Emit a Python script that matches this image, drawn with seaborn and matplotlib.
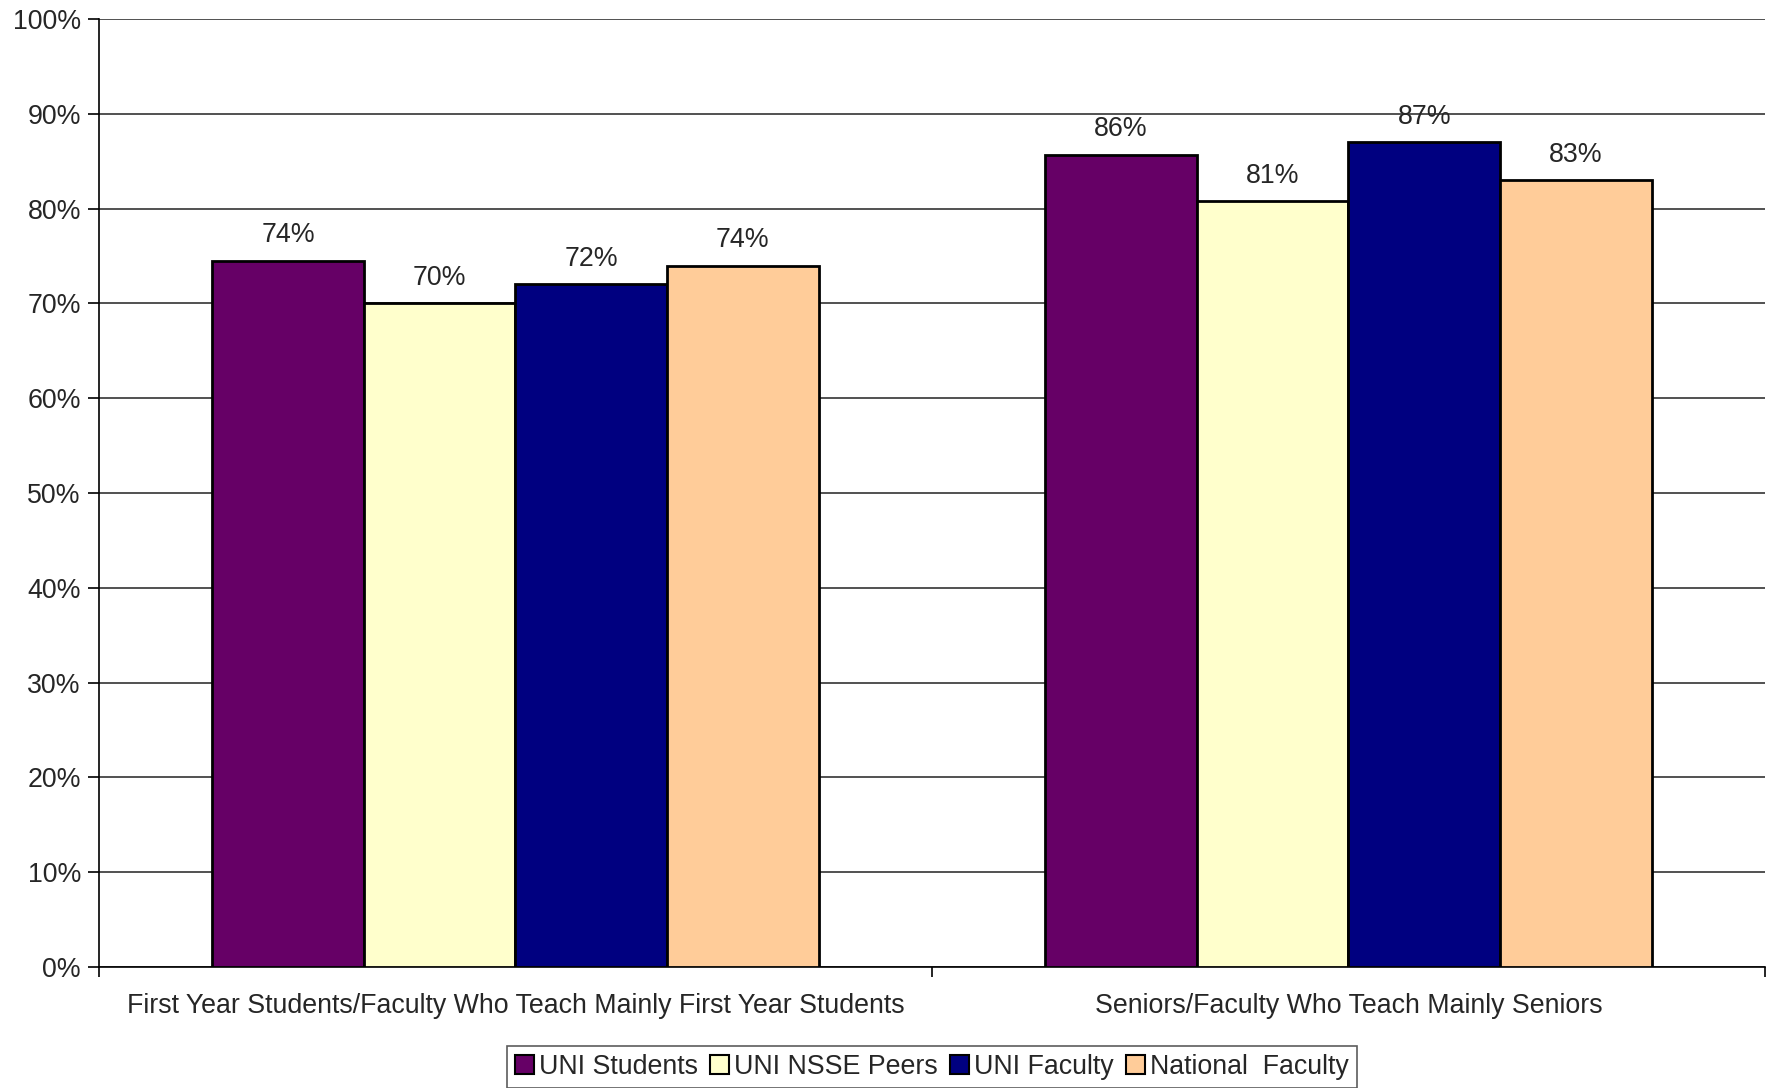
import pandas as pd
import matplotlib.pyplot as plt
import seaborn as sns
from matplotlib.patches import Patch

# Chart data
categories = ['First Year Students/Faculty Who Teach Mainly First Year Students',
              'Seniors/Faculty Who Teach Mainly Seniors']
series = ['UNI Students', 'UNI NSSE Peers', 'UNI Faculty', 'National  Faculty']
uni_students = [74.5, 85.7]
uni_nsse_peers = [70.0, 80.8]
uni_faculty = [72.0, 87.0]
national_faculty = [74.0, 83.0]
labels = [['74%', '86%'], ['70%', '81%'], ['72%', '87%'], ['74%', '83%']]
colors = ['#660066', '#FFFFCC', '#000080', '#FFCC99']

# Long-form table for seaborn
rows = []
for name, vals in zip(series, [uni_students, uni_nsse_peers, uni_faculty, national_faculty]):
    for cat, v in zip(categories, vals):
        rows.append({'Category': cat, 'Group': name, 'Value': v})
df = pd.DataFrame(rows)

sns.set_style('white')
plt.rcParams['font.family'] = ['Liberation Sans', 'DejaVu Sans']
fs = 19.3

fig = plt.figure(figsize=(17.73, 10.88), dpi=100)
ax = fig.add_axes([0.0558, 0.1112, 0.9397, 0.8713])

sns.barplot(data=df, x='Category', y='Value', hue='Group', hue_order=series,
            order=categories, palette=colors, width=0.728, ax=ax,
            edgecolor='black', linewidth=2, saturation=1, legend=False, zorder=3)

# Data labels above bars
for cont, labs in zip(ax.containers, labels):
    ax.bar_label(cont, labels=labs, padding=9, fontsize=fs)

ax.set_ylim(0, 100)
ax.set_xlim(-0.5, 1.5)
ax.set_yticks(range(0, 101, 10))
ax.set_yticklabels([f'{v}%' for v in range(0, 101, 10)], fontsize=fs)
ax.yaxis.grid(True, color='#222222', linewidth=1.1, zorder=0)
ax.set_axisbelow(True)
ax.tick_params(axis='y', which='major', left=True, length=8, width=1.2, color='black', pad=5)
ax.tick_params(axis='x', which='major', bottom=False, length=0, pad=18.5, labelsize=fs)
ax.set_xticks([-0.5, 0.5, 1.5], minor=True)
ax.tick_params(axis='x', which='minor', bottom=True, length=7, width=1.2, color='black')
ax.set_xlabel('')
ax.set_ylabel('')
for side in ['top', 'right']:
    ax.spines[side].set_visible(False)
for side in ['left', 'bottom']:
    ax.spines[side].set_color('black')
    ax.spines[side].set_linewidth(1.2)

handles = [Patch(facecolor=c, edgecolor='black', linewidth=1.5) for c in colors]
leg = fig.legend(handles, series, loc='lower center', bbox_to_anchor=(0.5257, 0.0),
                 ncol=4, fontsize=fs, frameon=True, fancybox=False, edgecolor='#333333',
                 handlelength=0.7, handleheight=0.7, handletextpad=0.2, columnspacing=0.45,
                 borderpad=0.3, borderaxespad=0.0)
leg.get_frame().set_linewidth(1.2)

fig.savefig('out.png', dpi=100)
